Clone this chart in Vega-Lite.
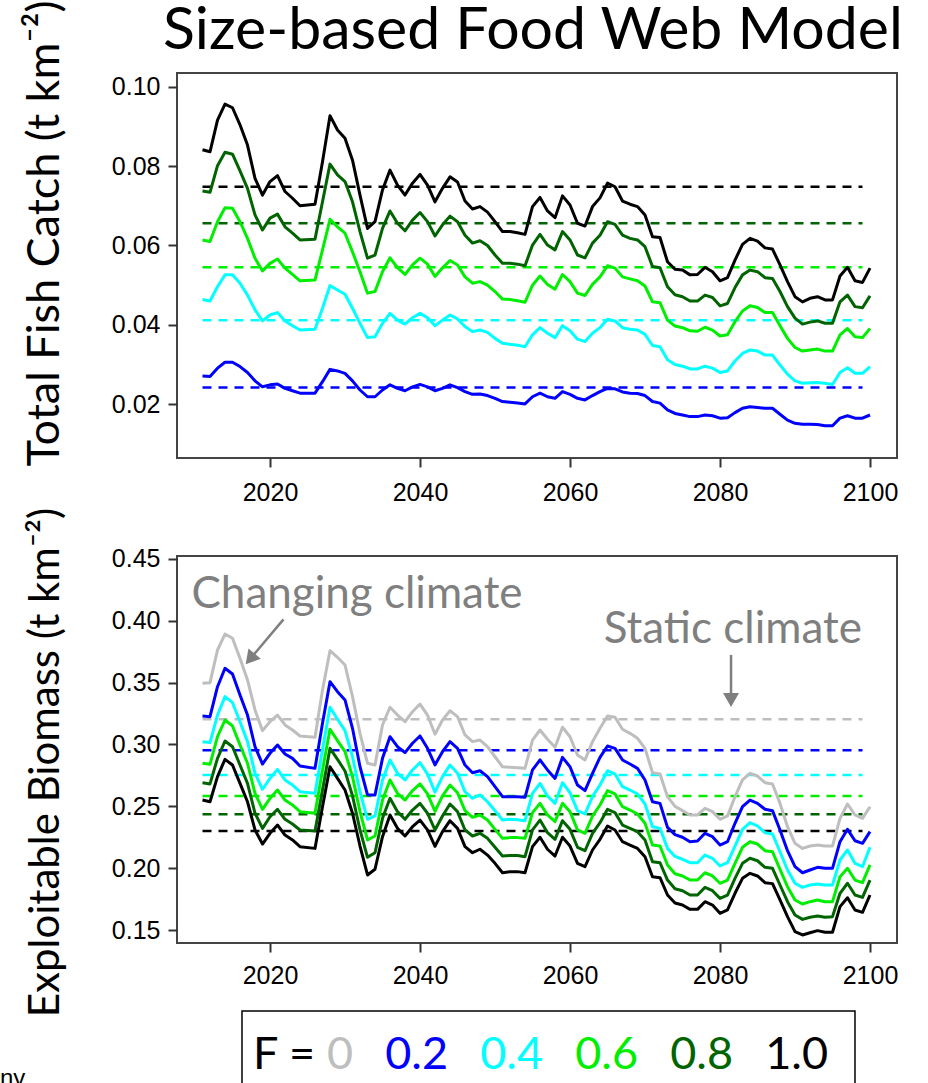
{
"$schema": "https://vega.github.io/schema/vega-lite/v6.json",
"background": "white",
"padding": {"left": 0, "top": -2, "right": 0, "bottom": 0},
"title": {"text": "Size-based Food Web Model", "font": "Lato", "fontSize": 59, "fontWeight": "normal", "color": "black", "anchor": "middle", "frame": "group", "offset": -62, "dx": -4},
"config": {
 "view": {"stroke": "#444444", "strokeWidth": 2},
 "axis": {"labelFont": "Liberation Sans", "labelFontSize": 25, "labelColor": "black", "tickColor": "#333333", "tickWidth": 2, "tickSize": 9, "domain": false, "grid": false, "titleFont": "Lato", "titleFontSize": 45, "titleFontWeight": "normal", "titleColor": "black"},
 "axisY": {"labelPadding": 8}
},
"datasets": {
"catchLevel": [{"F":1,"value":0.0748},{"F":0.8,"value":0.0656},{"F":0.6,"value":0.0545},{"F":0.4,"value":0.0412},{"F":0.2,"value":0.0242}],
"bioLevel": [{"F":0,"value":0.3204},{"F":0.2,"value":0.2953},{"F":0.4,"value":0.2753},{"F":0.6,"value":0.2584},{"F":0.8,"value":0.2435},{"F":1,"value":0.2300}],
"legendItems": [{"F":0,"label":"0"},{"F":0.2,"label":"0.2"},{"F":0.4,"label":"0.4"},{"F":0.6,"label":"0.6"},{"F":0.8,"label":"0.8"},{"F":1,"label":"1.0"}],
"catch": [
{"F":1,"year":2011,"value":0.0841},{"F":1,"year":2012,"value":0.0836},{"F":1,"year":2013,"value":0.0916},{"F":1,"year":2014,"value":0.0956},{"F":1,"year":2015,"value":0.0947},{"F":1,"year":2016,"value":0.0904},{"F":1,"year":2017,"value":0.0853},{"F":1,"year":2018,"value":0.0769},{"F":1,"year":2019,"value":0.0727},{"F":1,"year":2020,"value":0.0761},{"F":1,"year":2021,"value":0.0776},{"F":1,"year":2022,"value":0.0736},{"F":1,"year":2023,"value":0.0719},{"F":1,"year":2024,"value":0.0700},{"F":1,"year":2026,"value":0.0704},{"F":1,"year":2027,"value":0.0811},{"F":1,"year":2028,"value":0.0927},{"F":1,"year":2029,"value":0.0891},{"F":1,"year":2030,"value":0.0870},{"F":1,"year":2031,"value":0.0815},{"F":1,"year":2032,"value":0.0727},{"F":1,"year":2033,"value":0.0643},{"F":1,"year":2034,"value":0.0660},{"F":1,"year":2035,"value":0.0740},{"F":1,"year":2036,"value":0.0790},{"F":1,"year":2037,"value":0.0752},{"F":1,"year":2038,"value":0.0727},{"F":1,"year":2039,"value":0.0757},{"F":1,"year":2040,"value":0.0779},{"F":1,"year":2041,"value":0.0752},{"F":1,"year":2042,"value":0.0710},{"F":1,"year":2043,"value":0.0744},{"F":1,"year":2044,"value":0.0773},{"F":1,"year":2045,"value":0.0760},{"F":1,"year":2046,"value":0.0712},{"F":1,"year":2047,"value":0.0692},{"F":1,"year":2048,"value":0.0698},{"F":1,"year":2049,"value":0.0684},{"F":1,"year":2050,"value":0.0660},{"F":1,"year":2051,"value":0.0635},{"F":1,"year":2052,"value":0.0635},{"F":1,"year":2053,"value":0.0632},{"F":1,"year":2054,"value":0.0628},{"F":1,"year":2055,"value":0.0698},{"F":1,"year":2056,"value":0.0721},{"F":1,"year":2057,"value":0.0687},{"F":1,"year":2058,"value":0.0670},{"F":1,"year":2059,"value":0.0725},{"F":1,"year":2060,"value":0.0702},{"F":1,"year":2061,"value":0.0656},{"F":1,"year":2062,"value":0.0649},{"F":1,"year":2063,"value":0.0698},{"F":1,"year":2064,"value":0.0720},{"F":1,"year":2065,"value":0.0757},{"F":1,"year":2066,"value":0.0748},{"F":1,"year":2067,"value":0.0712},{"F":1,"year":2068,"value":0.0704},{"F":1,"year":2069,"value":0.0698},{"F":1,"year":2070,"value":0.0677},{"F":1,"year":2071,"value":0.0622},{"F":1,"year":2072,"value":0.0620},{"F":1,"year":2073,"value":0.0559},{"F":1,"year":2074,"value":0.0540},{"F":1,"year":2075,"value":0.0538},{"F":1,"year":2076,"value":0.0526},{"F":1,"year":2077,"value":0.0527},{"F":1,"year":2078,"value":0.0545},{"F":1,"year":2079,"value":0.0534},{"F":1,"year":2080,"value":0.0511},{"F":1,"year":2081,"value":0.0519},{"F":1,"year":2082,"value":0.0563},{"F":1,"year":2083,"value":0.0603},{"F":1,"year":2084,"value":0.0618},{"F":1,"year":2085,"value":0.0611},{"F":1,"year":2086,"value":0.0594},{"F":1,"year":2087,"value":0.0591},{"F":1,"year":2088,"value":0.0551},{"F":1,"year":2089,"value":0.0509},{"F":1,"year":2090,"value":0.0471},{"F":1,"year":2091,"value":0.0458},{"F":1,"year":2092,"value":0.0467},{"F":1,"year":2093,"value":0.0471},{"F":1,"year":2094,"value":0.0463},{"F":1,"year":2095,"value":0.0463},{"F":1,"year":2096,"value":0.0523},{"F":1,"year":2097,"value":0.0545},{"F":1,"year":2098,"value":0.0511},{"F":1,"year":2099,"value":0.0507},{"F":1,"year":2100,"value":0.0543},
{"F":0.8,"year":2011,"value":0.0737},{"F":0.8,"year":2012,"value":0.0734},{"F":0.8,"year":2013,"value":0.0801},{"F":0.8,"year":2014,"value":0.0835},{"F":0.8,"year":2015,"value":0.0830},{"F":0.8,"year":2016,"value":0.0788},{"F":0.8,"year":2017,"value":0.0744},{"F":0.8,"year":2018,"value":0.0677},{"F":0.8,"year":2019,"value":0.0639},{"F":0.8,"year":2020,"value":0.0669},{"F":0.8,"year":2021,"value":0.0679},{"F":0.8,"year":2022,"value":0.0647},{"F":0.8,"year":2023,"value":0.0631},{"F":0.8,"year":2024,"value":0.0614},{"F":0.8,"year":2026,"value":0.0616},{"F":0.8,"year":2027,"value":0.0710},{"F":0.8,"year":2028,"value":0.0805},{"F":0.8,"year":2029,"value":0.0778},{"F":0.8,"year":2030,"value":0.0761},{"F":0.8,"year":2031,"value":0.0710},{"F":0.8,"year":2032,"value":0.0635},{"F":0.8,"year":2033,"value":0.0568},{"F":0.8,"year":2034,"value":0.0576},{"F":0.8,"year":2035,"value":0.0643},{"F":0.8,"year":2036,"value":0.0687},{"F":0.8,"year":2037,"value":0.0656},{"F":0.8,"year":2038,"value":0.0637},{"F":0.8,"year":2039,"value":0.0664},{"F":0.8,"year":2040,"value":0.0683},{"F":0.8,"year":2041,"value":0.0660},{"F":0.8,"year":2042,"value":0.0624},{"F":0.8,"year":2043,"value":0.0652},{"F":0.8,"year":2044,"value":0.0674},{"F":0.8,"year":2045,"value":0.0660},{"F":0.8,"year":2046,"value":0.0626},{"F":0.8,"year":2047,"value":0.0606},{"F":0.8,"year":2048,"value":0.0612},{"F":0.8,"year":2049,"value":0.0600},{"F":0.8,"year":2050,"value":0.0576},{"F":0.8,"year":2051,"value":0.0555},{"F":0.8,"year":2052,"value":0.0555},{"F":0.8,"year":2053,"value":0.0553},{"F":0.8,"year":2054,"value":0.0549},{"F":0.8,"year":2055,"value":0.0601},{"F":0.8,"year":2056,"value":0.0628},{"F":0.8,"year":2057,"value":0.0601},{"F":0.8,"year":2058,"value":0.0589},{"F":0.8,"year":2059,"value":0.0635},{"F":0.8,"year":2060,"value":0.0614},{"F":0.8,"year":2061,"value":0.0576},{"F":0.8,"year":2062,"value":0.0569},{"F":0.8,"year":2063,"value":0.0606},{"F":0.8,"year":2064,"value":0.0626},{"F":0.8,"year":2065,"value":0.0660},{"F":0.8,"year":2066,"value":0.0653},{"F":0.8,"year":2067,"value":0.0626},{"F":0.8,"year":2068,"value":0.0618},{"F":0.8,"year":2069,"value":0.0614},{"F":0.8,"year":2070,"value":0.0597},{"F":0.8,"year":2071,"value":0.0547},{"F":0.8,"year":2072,"value":0.0544},{"F":0.8,"year":2073,"value":0.0496},{"F":0.8,"year":2074,"value":0.0476},{"F":0.8,"year":2075,"value":0.0471},{"F":0.8,"year":2076,"value":0.0460},{"F":0.8,"year":2077,"value":0.0460},{"F":0.8,"year":2078,"value":0.0475},{"F":0.8,"year":2079,"value":0.0469},{"F":0.8,"year":2080,"value":0.0448},{"F":0.8,"year":2081,"value":0.0454},{"F":0.8,"year":2082,"value":0.0494},{"F":0.8,"year":2083,"value":0.0526},{"F":0.8,"year":2084,"value":0.0538},{"F":0.8,"year":2085,"value":0.0534},{"F":0.8,"year":2086,"value":0.0519},{"F":0.8,"year":2087,"value":0.0517},{"F":0.8,"year":2088,"value":0.0484},{"F":0.8,"year":2089,"value":0.0446},{"F":0.8,"year":2090,"value":0.0417},{"F":0.8,"year":2091,"value":0.0402},{"F":0.8,"year":2092,"value":0.0407},{"F":0.8,"year":2093,"value":0.0410},{"F":0.8,"year":2094,"value":0.0404},{"F":0.8,"year":2095,"value":0.0404},{"F":0.8,"year":2096,"value":0.0458},{"F":0.8,"year":2097,"value":0.0475},{"F":0.8,"year":2098,"value":0.0446},{"F":0.8,"year":2099,"value":0.0443},{"F":0.8,"year":2100,"value":0.0473},
{"F":0.6,"year":2011,"value":0.0614},{"F":0.6,"year":2012,"value":0.0610},{"F":0.6,"year":2013,"value":0.0660},{"F":0.6,"year":2014,"value":0.0695},{"F":0.6,"year":2015,"value":0.0694},{"F":0.6,"year":2016,"value":0.0660},{"F":0.6,"year":2017,"value":0.0618},{"F":0.6,"year":2018,"value":0.0568},{"F":0.6,"year":2019,"value":0.0536},{"F":0.6,"year":2020,"value":0.0555},{"F":0.6,"year":2021,"value":0.0566},{"F":0.6,"year":2022,"value":0.0543},{"F":0.6,"year":2023,"value":0.0527},{"F":0.6,"year":2024,"value":0.0511},{"F":0.6,"year":2026,"value":0.0513},{"F":0.6,"year":2027,"value":0.0589},{"F":0.6,"year":2028,"value":0.0666},{"F":0.6,"year":2029,"value":0.0647},{"F":0.6,"year":2030,"value":0.0631},{"F":0.6,"year":2031,"value":0.0584},{"F":0.6,"year":2032,"value":0.0534},{"F":0.6,"year":2033,"value":0.0480},{"F":0.6,"year":2034,"value":0.0484},{"F":0.6,"year":2035,"value":0.0534},{"F":0.6,"year":2036,"value":0.0569},{"F":0.6,"year":2037,"value":0.0544},{"F":0.6,"year":2038,"value":0.0527},{"F":0.6,"year":2039,"value":0.0551},{"F":0.6,"year":2040,"value":0.0568},{"F":0.6,"year":2041,"value":0.0553},{"F":0.6,"year":2042,"value":0.0522},{"F":0.6,"year":2043,"value":0.0544},{"F":0.6,"year":2044,"value":0.0562},{"F":0.6,"year":2045,"value":0.0551},{"F":0.6,"year":2046,"value":0.0521},{"F":0.6,"year":2047,"value":0.0505},{"F":0.6,"year":2048,"value":0.0509},{"F":0.6,"year":2049,"value":0.0500},{"F":0.6,"year":2050,"value":0.0484},{"F":0.6,"year":2051,"value":0.0465},{"F":0.6,"year":2052,"value":0.0464},{"F":0.6,"year":2053,"value":0.0461},{"F":0.6,"year":2054,"value":0.0457},{"F":0.6,"year":2055,"value":0.0500},{"F":0.6,"year":2056,"value":0.0523},{"F":0.6,"year":2057,"value":0.0502},{"F":0.6,"year":2058,"value":0.0490},{"F":0.6,"year":2059,"value":0.0527},{"F":0.6,"year":2060,"value":0.0509},{"F":0.6,"year":2061,"value":0.0480},{"F":0.6,"year":2062,"value":0.0474},{"F":0.6,"year":2063,"value":0.0502},{"F":0.6,"year":2064,"value":0.0521},{"F":0.6,"year":2065,"value":0.0549},{"F":0.6,"year":2066,"value":0.0543},{"F":0.6,"year":2067,"value":0.0521},{"F":0.6,"year":2068,"value":0.0516},{"F":0.6,"year":2069,"value":0.0511},{"F":0.6,"year":2070,"value":0.0498},{"F":0.6,"year":2071,"value":0.0458},{"F":0.6,"year":2072,"value":0.0456},{"F":0.6,"year":2073,"value":0.0412},{"F":0.6,"year":2074,"value":0.0397},{"F":0.6,"year":2075,"value":0.0393},{"F":0.6,"year":2076,"value":0.0385},{"F":0.6,"year":2077,"value":0.0384},{"F":0.6,"year":2078,"value":0.0394},{"F":0.6,"year":2079,"value":0.0387},{"F":0.6,"year":2080,"value":0.0372},{"F":0.6,"year":2081,"value":0.0375},{"F":0.6,"year":2082,"value":0.0408},{"F":0.6,"year":2083,"value":0.0435},{"F":0.6,"year":2084,"value":0.0448},{"F":0.6,"year":2085,"value":0.0444},{"F":0.6,"year":2086,"value":0.0431},{"F":0.6,"year":2087,"value":0.0431},{"F":0.6,"year":2088,"value":0.0398},{"F":0.6,"year":2089,"value":0.0366},{"F":0.6,"year":2090,"value":0.0343},{"F":0.6,"year":2091,"value":0.0334},{"F":0.6,"year":2092,"value":0.0337},{"F":0.6,"year":2093,"value":0.0339},{"F":0.6,"year":2094,"value":0.0334},{"F":0.6,"year":2095,"value":0.0334},{"F":0.6,"year":2096,"value":0.0375},{"F":0.6,"year":2097,"value":0.0391},{"F":0.6,"year":2098,"value":0.0370},{"F":0.6,"year":2099,"value":0.0368},{"F":0.6,"year":2100,"value":0.0391},
{"F":0.4,"year":2011,"value":0.0464},{"F":0.4,"year":2012,"value":0.0460},{"F":0.4,"year":2013,"value":0.0496},{"F":0.4,"year":2014,"value":0.0526},{"F":0.4,"year":2015,"value":0.0526},{"F":0.4,"year":2016,"value":0.0505},{"F":0.4,"year":2017,"value":0.0475},{"F":0.4,"year":2018,"value":0.0438},{"F":0.4,"year":2019,"value":0.0410},{"F":0.4,"year":2020,"value":0.0425},{"F":0.4,"year":2021,"value":0.0431},{"F":0.4,"year":2022,"value":0.0410},{"F":0.4,"year":2023,"value":0.0398},{"F":0.4,"year":2024,"value":0.0387},{"F":0.4,"year":2026,"value":0.0389},{"F":0.4,"year":2027,"value":0.0442},{"F":0.4,"year":2028,"value":0.0499},{"F":0.4,"year":2029,"value":0.0488},{"F":0.4,"year":2030,"value":0.0477},{"F":0.4,"year":2031,"value":0.0442},{"F":0.4,"year":2032,"value":0.0404},{"F":0.4,"year":2033,"value":0.0368},{"F":0.4,"year":2034,"value":0.0370},{"F":0.4,"year":2035,"value":0.0404},{"F":0.4,"year":2036,"value":0.0429},{"F":0.4,"year":2037,"value":0.0412},{"F":0.4,"year":2038,"value":0.0402},{"F":0.4,"year":2039,"value":0.0418},{"F":0.4,"year":2040,"value":0.0429},{"F":0.4,"year":2041,"value":0.0418},{"F":0.4,"year":2042,"value":0.0398},{"F":0.4,"year":2043,"value":0.0412},{"F":0.4,"year":2044,"value":0.0425},{"F":0.4,"year":2045,"value":0.0415},{"F":0.4,"year":2046,"value":0.0396},{"F":0.4,"year":2047,"value":0.0383},{"F":0.4,"year":2048,"value":0.0387},{"F":0.4,"year":2049,"value":0.0381},{"F":0.4,"year":2050,"value":0.0366},{"F":0.4,"year":2051,"value":0.0354},{"F":0.4,"year":2052,"value":0.0351},{"F":0.4,"year":2053,"value":0.0349},{"F":0.4,"year":2054,"value":0.0345},{"F":0.4,"year":2055,"value":0.0375},{"F":0.4,"year":2056,"value":0.0393},{"F":0.4,"year":2057,"value":0.0379},{"F":0.4,"year":2058,"value":0.0368},{"F":0.4,"year":2059,"value":0.0398},{"F":0.4,"year":2060,"value":0.0385},{"F":0.4,"year":2061,"value":0.0364},{"F":0.4,"year":2062,"value":0.0358},{"F":0.4,"year":2063,"value":0.0379},{"F":0.4,"year":2064,"value":0.0393},{"F":0.4,"year":2065,"value":0.0414},{"F":0.4,"year":2066,"value":0.0410},{"F":0.4,"year":2067,"value":0.0393},{"F":0.4,"year":2068,"value":0.0389},{"F":0.4,"year":2069,"value":0.0387},{"F":0.4,"year":2070,"value":0.0376},{"F":0.4,"year":2071,"value":0.0348},{"F":0.4,"year":2072,"value":0.0345},{"F":0.4,"year":2073,"value":0.0312},{"F":0.4,"year":2074,"value":0.0300},{"F":0.4,"year":2075,"value":0.0296},{"F":0.4,"year":2076,"value":0.0289},{"F":0.4,"year":2077,"value":0.0289},{"F":0.4,"year":2078,"value":0.0296},{"F":0.4,"year":2079,"value":0.0291},{"F":0.4,"year":2080,"value":0.0280},{"F":0.4,"year":2081,"value":0.0284},{"F":0.4,"year":2082,"value":0.0309},{"F":0.4,"year":2083,"value":0.0328},{"F":0.4,"year":2084,"value":0.0337},{"F":0.4,"year":2085,"value":0.0334},{"F":0.4,"year":2086,"value":0.0324},{"F":0.4,"year":2087,"value":0.0324},{"F":0.4,"year":2088,"value":0.0299},{"F":0.4,"year":2089,"value":0.0276},{"F":0.4,"year":2090,"value":0.0259},{"F":0.4,"year":2091,"value":0.0253},{"F":0.4,"year":2092,"value":0.0254},{"F":0.4,"year":2093,"value":0.0255},{"F":0.4,"year":2094,"value":0.0253},{"F":0.4,"year":2095,"value":0.0250},{"F":0.4,"year":2096,"value":0.0280},{"F":0.4,"year":2097,"value":0.0292},{"F":0.4,"year":2098,"value":0.0278},{"F":0.4,"year":2099,"value":0.0278},{"F":0.4,"year":2100,"value":0.0295},
{"F":0.2,"year":2011,"value":0.0271},{"F":0.2,"year":2012,"value":0.0270},{"F":0.2,"year":2013,"value":0.0291},{"F":0.2,"year":2014,"value":0.0306},{"F":0.2,"year":2015,"value":0.0306},{"F":0.2,"year":2016,"value":0.0295},{"F":0.2,"year":2017,"value":0.0280},{"F":0.2,"year":2018,"value":0.0259},{"F":0.2,"year":2019,"value":0.0244},{"F":0.2,"year":2020,"value":0.0249},{"F":0.2,"year":2021,"value":0.0251},{"F":0.2,"year":2022,"value":0.0240},{"F":0.2,"year":2023,"value":0.0234},{"F":0.2,"year":2024,"value":0.0228},{"F":0.2,"year":2026,"value":0.0228},{"F":0.2,"year":2027,"value":0.0257},{"F":0.2,"year":2028,"value":0.0288},{"F":0.2,"year":2029,"value":0.0284},{"F":0.2,"year":2030,"value":0.0278},{"F":0.2,"year":2031,"value":0.0259},{"F":0.2,"year":2032,"value":0.0236},{"F":0.2,"year":2033,"value":0.0219},{"F":0.2,"year":2034,"value":0.0219},{"F":0.2,"year":2035,"value":0.0236},{"F":0.2,"year":2036,"value":0.0249},{"F":0.2,"year":2037,"value":0.0240},{"F":0.2,"year":2038,"value":0.0234},{"F":0.2,"year":2039,"value":0.0244},{"F":0.2,"year":2040,"value":0.0250},{"F":0.2,"year":2041,"value":0.0244},{"F":0.2,"year":2042,"value":0.0234},{"F":0.2,"year":2043,"value":0.0240},{"F":0.2,"year":2044,"value":0.0249},{"F":0.2,"year":2045,"value":0.0242},{"F":0.2,"year":2046,"value":0.0232},{"F":0.2,"year":2047,"value":0.0225},{"F":0.2,"year":2048,"value":0.0226},{"F":0.2,"year":2049,"value":0.0222},{"F":0.2,"year":2050,"value":0.0215},{"F":0.2,"year":2051,"value":0.0207},{"F":0.2,"year":2052,"value":0.0205},{"F":0.2,"year":2053,"value":0.0203},{"F":0.2,"year":2054,"value":0.0201},{"F":0.2,"year":2055,"value":0.0219},{"F":0.2,"year":2056,"value":0.0228},{"F":0.2,"year":2057,"value":0.0219},{"F":0.2,"year":2058,"value":0.0215},{"F":0.2,"year":2059,"value":0.0232},{"F":0.2,"year":2060,"value":0.0225},{"F":0.2,"year":2061,"value":0.0215},{"F":0.2,"year":2062,"value":0.0211},{"F":0.2,"year":2063,"value":0.0222},{"F":0.2,"year":2064,"value":0.0232},{"F":0.2,"year":2065,"value":0.0240},{"F":0.2,"year":2066,"value":0.0239},{"F":0.2,"year":2067,"value":0.0231},{"F":0.2,"year":2068,"value":0.0228},{"F":0.2,"year":2069,"value":0.0227},{"F":0.2,"year":2070,"value":0.0222},{"F":0.2,"year":2071,"value":0.0207},{"F":0.2,"year":2072,"value":0.0203},{"F":0.2,"year":2073,"value":0.0186},{"F":0.2,"year":2074,"value":0.0177},{"F":0.2,"year":2075,"value":0.0173},{"F":0.2,"year":2076,"value":0.0169},{"F":0.2,"year":2077,"value":0.0169},{"F":0.2,"year":2078,"value":0.0173},{"F":0.2,"year":2079,"value":0.0171},{"F":0.2,"year":2080,"value":0.0165},{"F":0.2,"year":2081,"value":0.0166},{"F":0.2,"year":2082,"value":0.0179},{"F":0.2,"year":2083,"value":0.0190},{"F":0.2,"year":2084,"value":0.0194},{"F":0.2,"year":2085,"value":0.0192},{"F":0.2,"year":2086,"value":0.0190},{"F":0.2,"year":2087,"value":0.0190},{"F":0.2,"year":2088,"value":0.0175},{"F":0.2,"year":2089,"value":0.0160},{"F":0.2,"year":2090,"value":0.0152},{"F":0.2,"year":2091,"value":0.0150},{"F":0.2,"year":2092,"value":0.0150},{"F":0.2,"year":2093,"value":0.0149},{"F":0.2,"year":2094,"value":0.0146},{"F":0.2,"year":2095,"value":0.0146},{"F":0.2,"year":2096,"value":0.0165},{"F":0.2,"year":2097,"value":0.0171},{"F":0.2,"year":2098,"value":0.0165},{"F":0.2,"year":2099,"value":0.0165},{"F":0.2,"year":2100,"value":0.0173}
],
"biomass": [
{"F":0,"year":2011,"value":0.3495},{"F":0,"year":2012,"value":0.3500},{"F":0,"year":2013,"value":0.3764},{"F":0,"year":2014,"value":0.3893},{"F":0,"year":2015,"value":0.3859},{"F":0,"year":2016,"value":0.3697},{"F":0,"year":2017,"value":0.3522},{"F":0,"year":2018,"value":0.3279},{"F":0,"year":2019,"value":0.3112},{"F":0,"year":2020,"value":0.3184},{"F":0,"year":2021,"value":0.3238},{"F":0,"year":2022,"value":0.3158},{"F":0,"year":2023,"value":0.3117},{"F":0,"year":2024,"value":0.3069},{"F":0,"year":2026,"value":0.3058},{"F":0,"year":2027,"value":0.3441},{"F":0,"year":2028,"value":0.3758},{"F":0,"year":2029,"value":0.3705},{"F":0,"year":2030,"value":0.3643},{"F":0,"year":2031,"value":0.3387},{"F":0,"year":2032,"value":0.3090},{"F":0,"year":2033,"value":0.2848},{"F":0,"year":2034,"value":0.2834},{"F":0,"year":2035,"value":0.3158},{"F":0,"year":2036,"value":0.3301},{"F":0,"year":2037,"value":0.3238},{"F":0,"year":2038,"value":0.3184},{"F":0,"year":2039,"value":0.3265},{"F":0,"year":2040,"value":0.3327},{"F":0,"year":2041,"value":0.3238},{"F":0,"year":2042,"value":0.3083},{"F":0,"year":2043,"value":0.3198},{"F":0,"year":2044,"value":0.3273},{"F":0,"year":2045,"value":0.3225},{"F":0,"year":2046,"value":0.3077},{"F":0,"year":2047,"value":0.3023},{"F":0,"year":2048,"value":0.3036},{"F":0,"year":2049,"value":0.2982},{"F":0,"year":2050,"value":0.2901},{"F":0,"year":2051,"value":0.2820},{"F":0,"year":2052,"value":0.2815},{"F":0,"year":2053,"value":0.2812},{"F":0,"year":2054,"value":0.2807},{"F":0,"year":2055,"value":0.3036},{"F":0,"year":2056,"value":0.3117},{"F":0,"year":2057,"value":0.3042},{"F":0,"year":2058,"value":0.2977},{"F":0,"year":2059,"value":0.3139},{"F":0,"year":2060,"value":0.3063},{"F":0,"year":2061,"value":0.2915},{"F":0,"year":2062,"value":0.2875},{"F":0,"year":2063,"value":0.3023},{"F":0,"year":2064,"value":0.3131},{"F":0,"year":2065,"value":0.3230},{"F":0,"year":2066,"value":0.3220},{"F":0,"year":2067,"value":0.3123},{"F":0,"year":2068,"value":0.3090},{"F":0,"year":2069,"value":0.3050},{"F":0,"year":2070,"value":0.2969},{"F":0,"year":2071,"value":0.2772},{"F":0,"year":2072,"value":0.2761},{"F":0,"year":2073,"value":0.2578},{"F":0,"year":2074,"value":0.2500},{"F":0,"year":2075,"value":0.2465},{"F":0,"year":2076,"value":0.2430},{"F":0,"year":2077,"value":0.2430},{"F":0,"year":2078,"value":0.2484},{"F":0,"year":2079,"value":0.2457},{"F":0,"year":2080,"value":0.2395},{"F":0,"year":2081,"value":0.2422},{"F":0,"year":2082,"value":0.2578},{"F":0,"year":2083,"value":0.2713},{"F":0,"year":2084,"value":0.2767},{"F":0,"year":2085,"value":0.2745},{"F":0,"year":2086,"value":0.2691},{"F":0,"year":2087,"value":0.2681},{"F":0,"year":2088,"value":0.2524},{"F":0,"year":2089,"value":0.2335},{"F":0,"year":2090,"value":0.2201},{"F":0,"year":2091,"value":0.2160},{"F":0,"year":2092,"value":0.2179},{"F":0,"year":2093,"value":0.2187},{"F":0,"year":2094,"value":0.2179},{"F":0,"year":2095,"value":0.2179},{"F":0,"year":2096,"value":0.2403},{"F":0,"year":2097,"value":0.2519},{"F":0,"year":2098,"value":0.2430},{"F":0,"year":2099,"value":0.2403},{"F":0,"year":2100,"value":0.2497},
{"F":0.2,"year":2011,"value":0.3230},{"F":0.2,"year":2012,"value":0.3225},{"F":0.2,"year":2013,"value":0.3467},{"F":0.2,"year":2014,"value":0.3616},{"F":0.2,"year":2015,"value":0.3570},{"F":0.2,"year":2016,"value":0.3400},{"F":0.2,"year":2017,"value":0.3238},{"F":0.2,"year":2018,"value":0.2982},{"F":0.2,"year":2019,"value":0.2842},{"F":0.2,"year":2020,"value":0.2929},{"F":0.2,"year":2021,"value":0.2996},{"F":0.2,"year":2022,"value":0.2923},{"F":0.2,"year":2023,"value":0.2888},{"F":0.2,"year":2024,"value":0.2826},{"F":0.2,"year":2026,"value":0.2807},{"F":0.2,"year":2027,"value":0.3171},{"F":0.2,"year":2028,"value":0.3508},{"F":0.2,"year":2029,"value":0.3427},{"F":0.2,"year":2030,"value":0.3360},{"F":0.2,"year":2031,"value":0.3131},{"F":0.2,"year":2032,"value":0.2820},{"F":0.2,"year":2033,"value":0.2592},{"F":0.2,"year":2034,"value":0.2592},{"F":0.2,"year":2035,"value":0.2888},{"F":0.2,"year":2036,"value":0.3063},{"F":0.2,"year":2037,"value":0.2982},{"F":0.2,"year":2038,"value":0.2934},{"F":0.2,"year":2039,"value":0.3010},{"F":0.2,"year":2040,"value":0.3069},{"F":0.2,"year":2041,"value":0.2969},{"F":0.2,"year":2042,"value":0.2835},{"F":0.2,"year":2043,"value":0.2942},{"F":0.2,"year":2044,"value":0.3023},{"F":0.2,"year":2045,"value":0.2969},{"F":0.2,"year":2046,"value":0.2834},{"F":0.2,"year":2047,"value":0.2772},{"F":0.2,"year":2048,"value":0.2788},{"F":0.2,"year":2049,"value":0.2740},{"F":0.2,"year":2050,"value":0.2659},{"F":0.2,"year":2051,"value":0.2578},{"F":0.2,"year":2052,"value":0.2578},{"F":0.2,"year":2053,"value":0.2578},{"F":0.2,"year":2054,"value":0.2573},{"F":0.2,"year":2055,"value":0.2794},{"F":0.2,"year":2056,"value":0.2875},{"F":0.2,"year":2057,"value":0.2794},{"F":0.2,"year":2058,"value":0.2726},{"F":0.2,"year":2059,"value":0.2896},{"F":0.2,"year":2060,"value":0.2820},{"F":0.2,"year":2061,"value":0.2672},{"F":0.2,"year":2062,"value":0.2627},{"F":0.2,"year":2063,"value":0.2767},{"F":0.2,"year":2064,"value":0.2896},{"F":0.2,"year":2065,"value":0.2988},{"F":0.2,"year":2066,"value":0.2969},{"F":0.2,"year":2067,"value":0.2875},{"F":0.2,"year":2068,"value":0.2842},{"F":0.2,"year":2069,"value":0.2807},{"F":0.2,"year":2070,"value":0.2713},{"F":0.2,"year":2071,"value":0.2537},{"F":0.2,"year":2072,"value":0.2524},{"F":0.2,"year":2073,"value":0.2330},{"F":0.2,"year":2074,"value":0.2271},{"F":0.2,"year":2075,"value":0.2250},{"F":0.2,"year":2076,"value":0.2214},{"F":0.2,"year":2077,"value":0.2220},{"F":0.2,"year":2078,"value":0.2282},{"F":0.2,"year":2079,"value":0.2255},{"F":0.2,"year":2080,"value":0.2187},{"F":0.2,"year":2081,"value":0.2214},{"F":0.2,"year":2082,"value":0.2363},{"F":0.2,"year":2083,"value":0.2497},{"F":0.2,"year":2084,"value":0.2551},{"F":0.2,"year":2085,"value":0.2524},{"F":0.2,"year":2086,"value":0.2476},{"F":0.2,"year":2087,"value":0.2465},{"F":0.2,"year":2088,"value":0.2309},{"F":0.2,"year":2089,"value":0.2141},{"F":0.2,"year":2090,"value":0.2012},{"F":0.2,"year":2091,"value":0.1963},{"F":0.2,"year":2092,"value":0.1985},{"F":0.2,"year":2093,"value":0.2007},{"F":0.2,"year":2094,"value":0.1999},{"F":0.2,"year":2095,"value":0.1999},{"F":0.2,"year":2096,"value":0.2214},{"F":0.2,"year":2097,"value":0.2314},{"F":0.2,"year":2098,"value":0.2222},{"F":0.2,"year":2099,"value":0.2201},{"F":0.2,"year":2100,"value":0.2295},
{"F":0.4,"year":2011,"value":0.3023},{"F":0.4,"year":2012,"value":0.3015},{"F":0.4,"year":2013,"value":0.3238},{"F":0.4,"year":2014,"value":0.3387},{"F":0.4,"year":2015,"value":0.3338},{"F":0.4,"year":2016,"value":0.3184},{"F":0.4,"year":2017,"value":0.3023},{"F":0.4,"year":2018,"value":0.2767},{"F":0.4,"year":2019,"value":0.2638},{"F":0.4,"year":2020,"value":0.2726},{"F":0.4,"year":2021,"value":0.2799},{"F":0.4,"year":2022,"value":0.2713},{"F":0.4,"year":2023,"value":0.2672},{"F":0.4,"year":2024,"value":0.2618},{"F":0.4,"year":2026,"value":0.2605},{"F":0.4,"year":2027,"value":0.2961},{"F":0.4,"year":2028,"value":0.3301},{"F":0.4,"year":2029,"value":0.3204},{"F":0.4,"year":2030,"value":0.3112},{"F":0.4,"year":2031,"value":0.2901},{"F":0.4,"year":2032,"value":0.2618},{"F":0.4,"year":2033,"value":0.2395},{"F":0.4,"year":2034,"value":0.2422},{"F":0.4,"year":2035,"value":0.2713},{"F":0.4,"year":2036,"value":0.2875},{"F":0.4,"year":2037,"value":0.2767},{"F":0.4,"year":2038,"value":0.2713},{"F":0.4,"year":2039,"value":0.2794},{"F":0.4,"year":2040,"value":0.2853},{"F":0.4,"year":2041,"value":0.2761},{"F":0.4,"year":2042,"value":0.2615},{"F":0.4,"year":2043,"value":0.2740},{"F":0.4,"year":2044,"value":0.2834},{"F":0.4,"year":2045,"value":0.2767},{"F":0.4,"year":2046,"value":0.2618},{"F":0.4,"year":2047,"value":0.2565},{"F":0.4,"year":2048,"value":0.2592},{"F":0.4,"year":2049,"value":0.2537},{"F":0.4,"year":2050,"value":0.2465},{"F":0.4,"year":2051,"value":0.2389},{"F":0.4,"year":2052,"value":0.2395},{"F":0.4,"year":2053,"value":0.2392},{"F":0.4,"year":2054,"value":0.2384},{"F":0.4,"year":2055,"value":0.2605},{"F":0.4,"year":2056,"value":0.2686},{"F":0.4,"year":2057,"value":0.2584},{"F":0.4,"year":2058,"value":0.2524},{"F":0.4,"year":2059,"value":0.2691},{"F":0.4,"year":2060,"value":0.2610},{"F":0.4,"year":2061,"value":0.2465},{"F":0.4,"year":2062,"value":0.2438},{"F":0.4,"year":2063,"value":0.2578},{"F":0.4,"year":2064,"value":0.2672},{"F":0.4,"year":2065,"value":0.2788},{"F":0.4,"year":2066,"value":0.2761},{"F":0.4,"year":2067,"value":0.2659},{"F":0.4,"year":2068,"value":0.2632},{"F":0.4,"year":2069,"value":0.2600},{"F":0.4,"year":2070,"value":0.2519},{"F":0.4,"year":2071,"value":0.2335},{"F":0.4,"year":2072,"value":0.2322},{"F":0.4,"year":2073,"value":0.2160},{"F":0.4,"year":2074,"value":0.2095},{"F":0.4,"year":2075,"value":0.2072},{"F":0.4,"year":2076,"value":0.2044},{"F":0.4,"year":2077,"value":0.2044},{"F":0.4,"year":2078,"value":0.2106},{"F":0.4,"year":2079,"value":0.2080},{"F":0.4,"year":2080,"value":0.2018},{"F":0.4,"year":2081,"value":0.2044},{"F":0.4,"year":2082,"value":0.2179},{"F":0.4,"year":2083,"value":0.2314},{"F":0.4,"year":2084,"value":0.2368},{"F":0.4,"year":2085,"value":0.2341},{"F":0.4,"year":2086,"value":0.2287},{"F":0.4,"year":2087,"value":0.2276},{"F":0.4,"year":2088,"value":0.2133},{"F":0.4,"year":2089,"value":0.1985},{"F":0.4,"year":2090,"value":0.1878},{"F":0.4,"year":2091,"value":0.1845},{"F":0.4,"year":2092,"value":0.1864},{"F":0.4,"year":2093,"value":0.1872},{"F":0.4,"year":2094,"value":0.1864},{"F":0.4,"year":2095,"value":0.1864},{"F":0.4,"year":2096,"value":0.2066},{"F":0.4,"year":2097,"value":0.2147},{"F":0.4,"year":2098,"value":0.2039},{"F":0.4,"year":2099,"value":0.2012},{"F":0.4,"year":2100,"value":0.2169},
{"F":0.6,"year":2011,"value":0.2848},{"F":0.6,"year":2012,"value":0.2840},{"F":0.6,"year":2013,"value":0.3063},{"F":0.6,"year":2014,"value":0.3198},{"F":0.6,"year":2015,"value":0.3150},{"F":0.6,"year":2016,"value":0.2996},{"F":0.6,"year":2017,"value":0.2848},{"F":0.6,"year":2018,"value":0.2605},{"F":0.6,"year":2019,"value":0.2476},{"F":0.6,"year":2020,"value":0.2565},{"F":0.6,"year":2021,"value":0.2632},{"F":0.6,"year":2022,"value":0.2551},{"F":0.6,"year":2023,"value":0.2511},{"F":0.6,"year":2024,"value":0.2457},{"F":0.6,"year":2026,"value":0.2444},{"F":0.6,"year":2027,"value":0.2794},{"F":0.6,"year":2028,"value":0.3123},{"F":0.6,"year":2029,"value":0.3031},{"F":0.6,"year":2030,"value":0.2942},{"F":0.6,"year":2031,"value":0.2740},{"F":0.6,"year":2032,"value":0.2457},{"F":0.6,"year":2033,"value":0.2228},{"F":0.6,"year":2034,"value":0.2260},{"F":0.6,"year":2035,"value":0.2551},{"F":0.6,"year":2036,"value":0.2713},{"F":0.6,"year":2037,"value":0.2605},{"F":0.6,"year":2038,"value":0.2551},{"F":0.6,"year":2039,"value":0.2627},{"F":0.6,"year":2040,"value":0.2681},{"F":0.6,"year":2041,"value":0.2600},{"F":0.6,"year":2042,"value":0.2460},{"F":0.6,"year":2043,"value":0.2584},{"F":0.6,"year":2044,"value":0.2672},{"F":0.6,"year":2045,"value":0.2610},{"F":0.6,"year":2046,"value":0.2465},{"F":0.6,"year":2047,"value":0.2411},{"F":0.6,"year":2048,"value":0.2430},{"F":0.6,"year":2049,"value":0.2389},{"F":0.6,"year":2050,"value":0.2314},{"F":0.6,"year":2051,"value":0.2241},{"F":0.6,"year":2052,"value":0.2247},{"F":0.6,"year":2053,"value":0.2247},{"F":0.6,"year":2054,"value":0.2241},{"F":0.6,"year":2055,"value":0.2449},{"F":0.6,"year":2056,"value":0.2524},{"F":0.6,"year":2057,"value":0.2430},{"F":0.6,"year":2058,"value":0.2376},{"F":0.6,"year":2059,"value":0.2524},{"F":0.6,"year":2060,"value":0.2457},{"F":0.6,"year":2061,"value":0.2309},{"F":0.6,"year":2062,"value":0.2282},{"F":0.6,"year":2063,"value":0.2422},{"F":0.6,"year":2064,"value":0.2511},{"F":0.6,"year":2065,"value":0.2627},{"F":0.6,"year":2066,"value":0.2600},{"F":0.6,"year":2067,"value":0.2497},{"F":0.6,"year":2068,"value":0.2470},{"F":0.6,"year":2069,"value":0.2438},{"F":0.6,"year":2070,"value":0.2363},{"F":0.6,"year":2071,"value":0.2187},{"F":0.6,"year":2072,"value":0.2179},{"F":0.6,"year":2073,"value":0.2026},{"F":0.6,"year":2074,"value":0.1955},{"F":0.6,"year":2075,"value":0.1937},{"F":0.6,"year":2076,"value":0.1904},{"F":0.6,"year":2077,"value":0.1904},{"F":0.6,"year":2078,"value":0.1963},{"F":0.6,"year":2079,"value":0.1937},{"F":0.6,"year":2080,"value":0.1878},{"F":0.6,"year":2081,"value":0.1904},{"F":0.6,"year":2082,"value":0.2039},{"F":0.6,"year":2083,"value":0.2169},{"F":0.6,"year":2084,"value":0.2214},{"F":0.6,"year":2085,"value":0.2195},{"F":0.6,"year":2086,"value":0.2141},{"F":0.6,"year":2087,"value":0.2133},{"F":0.6,"year":2088,"value":0.1991},{"F":0.6,"year":2089,"value":0.1850},{"F":0.6,"year":2090,"value":0.1743},{"F":0.6,"year":2091,"value":0.1710},{"F":0.6,"year":2092,"value":0.1729},{"F":0.6,"year":2093,"value":0.1743},{"F":0.6,"year":2094,"value":0.1729},{"F":0.6,"year":2095,"value":0.1729},{"F":0.6,"year":2096,"value":0.1931},{"F":0.6,"year":2097,"value":0.1999},{"F":0.6,"year":2098,"value":0.1904},{"F":0.6,"year":2099,"value":0.1883},{"F":0.6,"year":2100,"value":0.2026},
{"F":0.8,"year":2011,"value":0.2691},{"F":0.8,"year":2012,"value":0.2681},{"F":0.8,"year":2013,"value":0.2888},{"F":0.8,"year":2014,"value":0.3028},{"F":0.8,"year":2015,"value":0.2982},{"F":0.8,"year":2016,"value":0.2834},{"F":0.8,"year":2017,"value":0.2686},{"F":0.8,"year":2018,"value":0.2444},{"F":0.8,"year":2019,"value":0.2322},{"F":0.8,"year":2020,"value":0.2416},{"F":0.8,"year":2021,"value":0.2476},{"F":0.8,"year":2022,"value":0.2395},{"F":0.8,"year":2023,"value":0.2357},{"F":0.8,"year":2024,"value":0.2309},{"F":0.8,"year":2026,"value":0.2300},{"F":0.8,"year":2027,"value":0.2632},{"F":0.8,"year":2028,"value":0.2969},{"F":0.8,"year":2029,"value":0.2880},{"F":0.8,"year":2030,"value":0.2786},{"F":0.8,"year":2031,"value":0.2584},{"F":0.8,"year":2032,"value":0.2309},{"F":0.8,"year":2033,"value":0.2088},{"F":0.8,"year":2034,"value":0.2125},{"F":0.8,"year":2035,"value":0.2403},{"F":0.8,"year":2036,"value":0.2565},{"F":0.8,"year":2037,"value":0.2457},{"F":0.8,"year":2038,"value":0.2395},{"F":0.8,"year":2039,"value":0.2470},{"F":0.8,"year":2040,"value":0.2524},{"F":0.8,"year":2041,"value":0.2444},{"F":0.8,"year":2042,"value":0.2309},{"F":0.8,"year":2043,"value":0.2422},{"F":0.8,"year":2044,"value":0.2519},{"F":0.8,"year":2045,"value":0.2457},{"F":0.8,"year":2046,"value":0.2309},{"F":0.8,"year":2047,"value":0.2260},{"F":0.8,"year":2048,"value":0.2282},{"F":0.8,"year":2049,"value":0.2241},{"F":0.8,"year":2050,"value":0.2169},{"F":0.8,"year":2051,"value":0.2098},{"F":0.8,"year":2052,"value":0.2103},{"F":0.8,"year":2053,"value":0.2103},{"F":0.8,"year":2054,"value":0.2093},{"F":0.8,"year":2055,"value":0.2309},{"F":0.8,"year":2056,"value":0.2389},{"F":0.8,"year":2057,"value":0.2287},{"F":0.8,"year":2058,"value":0.2233},{"F":0.8,"year":2059,"value":0.2384},{"F":0.8,"year":2060,"value":0.2314},{"F":0.8,"year":2061,"value":0.2169},{"F":0.8,"year":2062,"value":0.2141},{"F":0.8,"year":2063,"value":0.2282},{"F":0.8,"year":2064,"value":0.2368},{"F":0.8,"year":2065,"value":0.2476},{"F":0.8,"year":2066,"value":0.2449},{"F":0.8,"year":2067,"value":0.2349},{"F":0.8,"year":2068,"value":0.2322},{"F":0.8,"year":2069,"value":0.2295},{"F":0.8,"year":2070,"value":0.2228},{"F":0.8,"year":2071,"value":0.2052},{"F":0.8,"year":2072,"value":0.2044},{"F":0.8,"year":2073,"value":0.1904},{"F":0.8,"year":2074,"value":0.1833},{"F":0.8,"year":2075,"value":0.1818},{"F":0.8,"year":2076,"value":0.1783},{"F":0.8,"year":2077,"value":0.1783},{"F":0.8,"year":2078,"value":0.1845},{"F":0.8,"year":2079,"value":0.1818},{"F":0.8,"year":2080,"value":0.1756},{"F":0.8,"year":2081,"value":0.1783},{"F":0.8,"year":2082,"value":0.1918},{"F":0.8,"year":2083,"value":0.2039},{"F":0.8,"year":2084,"value":0.2080},{"F":0.8,"year":2085,"value":0.2060},{"F":0.8,"year":2086,"value":0.2007},{"F":0.8,"year":2087,"value":0.1999},{"F":0.8,"year":2088,"value":0.1864},{"F":0.8,"year":2089,"value":0.1729},{"F":0.8,"year":2090,"value":0.1621},{"F":0.8,"year":2091,"value":0.1586},{"F":0.8,"year":2092,"value":0.1603},{"F":0.8,"year":2093,"value":0.1613},{"F":0.8,"year":2094,"value":0.1603},{"F":0.8,"year":2095,"value":0.1608},{"F":0.8,"year":2096,"value":0.1797},{"F":0.8,"year":2097,"value":0.1878},{"F":0.8,"year":2098,"value":0.1783},{"F":0.8,"year":2099,"value":0.1764},{"F":0.8,"year":2100,"value":0.1904},
{"F":1,"year":2011,"value":0.2551},{"F":1,"year":2012,"value":0.2537},{"F":1,"year":2013,"value":0.2740},{"F":1,"year":2014,"value":0.2880},{"F":1,"year":2015,"value":0.2834},{"F":1,"year":2016,"value":0.2686},{"F":1,"year":2017,"value":0.2537},{"F":1,"year":2018,"value":0.2309},{"F":1,"year":2019,"value":0.2195},{"F":1,"year":2020,"value":0.2282},{"F":1,"year":2021,"value":0.2349},{"F":1,"year":2022,"value":0.2268},{"F":1,"year":2023,"value":0.2228},{"F":1,"year":2024,"value":0.2174},{"F":1,"year":2026,"value":0.2160},{"F":1,"year":2027,"value":0.2497},{"F":1,"year":2028,"value":0.2820},{"F":1,"year":2029,"value":0.2726},{"F":1,"year":2030,"value":0.2632},{"F":1,"year":2031,"value":0.2444},{"F":1,"year":2032,"value":0.2179},{"F":1,"year":2033,"value":0.1945},{"F":1,"year":2034,"value":0.1991},{"F":1,"year":2035,"value":0.2255},{"F":1,"year":2036,"value":0.2430},{"F":1,"year":2037,"value":0.2322},{"F":1,"year":2038,"value":0.2260},{"F":1,"year":2039,"value":0.2335},{"F":1,"year":2040,"value":0.2389},{"F":1,"year":2041,"value":0.2309},{"F":1,"year":2042,"value":0.2177},{"F":1,"year":2043,"value":0.2295},{"F":1,"year":2044,"value":0.2384},{"F":1,"year":2045,"value":0.2322},{"F":1,"year":2046,"value":0.2174},{"F":1,"year":2047,"value":0.2125},{"F":1,"year":2048,"value":0.2153},{"F":1,"year":2049,"value":0.2106},{"F":1,"year":2050,"value":0.2039},{"F":1,"year":2051,"value":0.1963},{"F":1,"year":2052,"value":0.1972},{"F":1,"year":2053,"value":0.1972},{"F":1,"year":2054,"value":0.1963},{"F":1,"year":2055,"value":0.2174},{"F":1,"year":2056,"value":0.2250},{"F":1,"year":2057,"value":0.2153},{"F":1,"year":2058,"value":0.2098},{"F":1,"year":2059,"value":0.2250},{"F":1,"year":2060,"value":0.2179},{"F":1,"year":2061,"value":0.2039},{"F":1,"year":2062,"value":0.2012},{"F":1,"year":2063,"value":0.2147},{"F":1,"year":2064,"value":0.2233},{"F":1,"year":2065,"value":0.2341},{"F":1,"year":2066,"value":0.2309},{"F":1,"year":2067,"value":0.2214},{"F":1,"year":2068,"value":0.2187},{"F":1,"year":2069,"value":0.2160},{"F":1,"year":2070,"value":0.2093},{"F":1,"year":2071,"value":0.1931},{"F":1,"year":2072,"value":0.1923},{"F":1,"year":2073,"value":0.1783},{"F":1,"year":2074,"value":0.1718},{"F":1,"year":2075,"value":0.1702},{"F":1,"year":2076,"value":0.1667},{"F":1,"year":2077,"value":0.1667},{"F":1,"year":2078,"value":0.1729},{"F":1,"year":2079,"value":0.1702},{"F":1,"year":2080,"value":0.1635},{"F":1,"year":2081,"value":0.1662},{"F":1,"year":2082,"value":0.1797},{"F":1,"year":2083,"value":0.1918},{"F":1,"year":2084,"value":0.1958},{"F":1,"year":2085,"value":0.1937},{"F":1,"year":2086,"value":0.1883},{"F":1,"year":2087,"value":0.1875},{"F":1,"year":2088,"value":0.1743},{"F":1,"year":2089,"value":0.1608},{"F":1,"year":2090,"value":0.1487},{"F":1,"year":2091,"value":0.1460},{"F":1,"year":2092,"value":0.1478},{"F":1,"year":2093,"value":0.1495},{"F":1,"year":2094,"value":0.1482},{"F":1,"year":2095,"value":0.1482},{"F":1,"year":2096,"value":0.1689},{"F":1,"year":2097,"value":0.1761},{"F":1,"year":2098,"value":0.1662},{"F":1,"year":2099,"value":0.1643},{"F":1,"year":2100,"value":0.1783}
]
},
"bounds": "flush",
"spacing": 98,
"vconcat": [
 {
  "width": 720, "height": 385,
  "layer": [
   {"data": {"name": "catchLevel"}, "mark": {"type": "rule", "strokeDash": [9, 7], "strokeWidth": 2.5},
    "encoding": {
     "x": {"datum": 2011, "type": "quantitative", "scale": {"domain": [2007.6, 2103.6], "nice": false, "zero": false}},
     "x2": {"datum": 2099},
     "y": {"field": "value", "type": "quantitative", "scale": {"domain": [0.00647, 0.10345], "nice": false, "zero": false}},
     "color": {"field": "F", "type": "nominal", "scale": {"domain": [0, 0.2, 0.4, 0.6, 0.8, 1], "range": ["#bebebe", "#0000ff", "#00ffff", "#00ee00", "#006400", "#000000"]}, "legend": null}}},
   {"data": {"name": "catch"}, "mark": {"type": "line", "strokeWidth": 3, "strokeJoin": "round"},
    "encoding": {
     "x": {"field": "year", "type": "quantitative", "scale": {"domain": [2007.6, 2103.6], "nice": false, "zero": false}, "axis": {"values": [2020, 2040, 2060, 2080, 2100], "format": "d", "title": null, "labelPadding": 13}},
     "y": {"field": "value", "type": "quantitative", "scale": {"domain": [0.00647, 0.10345], "nice": false, "zero": false}, "axis": {"values": [0.02, 0.04, 0.06, 0.08, 0.1], "format": ".2f", "title": "Total Fish Catch (t km⁻²)", "titleX": -119, "titleY": 160, "titleBaseline": "alphabetic", "titleAngle": 270}},
     "color": {"field": "F", "type": "nominal", "scale": {"domain": [0, 0.2, 0.4, 0.6, 0.8, 1], "range": ["#bebebe", "#0000ff", "#00ffff", "#00ee00", "#006400", "#000000"]}, "legend": null}}}
  ]
 },
 {
  "bounds": "flush",
  "spacing": 68,
  "vconcat": [
   {
    "width": 720, "height": 387,
    "layer": [
     {"data": {"name": "bioLevel"}, "mark": {"type": "rule", "strokeDash": [9, 7], "strokeWidth": 2.5},
      "encoding": {
       "x": {"datum": 2011, "type": "quantitative", "scale": {"domain": [2007.6, 2103.6], "nice": false, "zero": false}},
       "x2": {"datum": 2099},
       "y": {"field": "value", "type": "quantitative", "scale": {"domain": [0.1395, 0.4524], "nice": false, "zero": false}},
       "color": {"field": "F", "type": "nominal", "scale": {"domain": [0, 0.2, 0.4, 0.6, 0.8, 1], "range": ["#bebebe", "#0000ff", "#00ffff", "#00ee00", "#006400", "#000000"]}, "legend": null}}},
     {"data": {"name": "biomass"}, "mark": {"type": "line", "strokeWidth": 3, "strokeJoin": "round"},
      "encoding": {
       "x": {"field": "year", "type": "quantitative", "scale": {"domain": [2007.6, 2103.6], "nice": false, "zero": false}, "axis": {"values": [2020, 2040, 2060, 2080, 2100], "format": "d", "title": null, "labelPadding": 11}},
       "y": {"field": "value", "type": "quantitative", "scale": {"domain": [0.1395, 0.4524], "nice": false, "zero": false}, "axis": {"values": [0.15, 0.2, 0.25, 0.3, 0.35, 0.4, 0.45], "format": ".2f", "title": "Exploitable Biomass (t km⁻²)", "titleFontSize": 42, "titleX": -119, "titleY": 206, "titleBaseline": "alphabetic", "titleAngle": 270}},
       "color": {"field": "F", "type": "nominal", "scale": {"domain": [0, 0.2, 0.4, 0.6, 0.8, 1], "range": ["#bebebe", "#0000ff", "#00ffff", "#00ee00", "#006400", "#000000"]}, "legend": null}}},
     {"data": {"values": [{"label": "Changing climate"}]}, "mark": {"type": "text", "font": "Lato", "fontSize": 44, "color": "#7f7f7f", "align": "center", "baseline": "alphabetic"},
      "encoding": {"text": {"field": "label"}, "x": {"datum": 2031.6, "type": "quantitative"}, "y": {"datum": 0.410, "type": "quantitative"}}},
     {"data": {"values": [{"label": "Static climate"}]}, "mark": {"type": "text", "font": "Lato", "fontSize": 44, "color": "#7f7f7f", "align": "center", "baseline": "alphabetic"},
      "encoding": {"text": {"field": "label"}, "x": {"datum": 2081.7, "type": "quantitative"}, "y": {"datum": 0.382, "type": "quantitative"}}},
     {"data": {"values": [{"label": "arrow"}]}, "mark": {"type": "rule", "color": "#7f7f7f", "strokeWidth": 2.5},
      "encoding": {"x": {"datum": 2021.8, "type": "quantitative"}, "y": {"datum": 0.4012, "type": "quantitative"}, "x2": {"datum": 2017.7}, "y2": {"datum": 0.3717}}},
     {"data": {"values": [{"label": "arrow"}]}, "mark": {"type": "point", "shape": "triangle-up", "filled": true, "size": 256, "angle": 220, "color": "#7f7f7f", "opacity": 1},
      "encoding": {"x": {"datum": 2017.35, "type": "quantitative"}, "y": {"datum": 0.3692, "type": "quantitative"}}},
     {"data": {"values": [{"label": "arrow"}]}, "mark": {"type": "rule", "color": "#7f7f7f", "strokeWidth": 2.5},
      "encoding": {"x": {"datum": 2081.47, "type": "quantitative"}, "y": {"datum": 0.3724, "type": "quantitative"}, "y2": {"datum": 0.3392}}},
     {"data": {"values": [{"label": "arrow"}]}, "mark": {"type": "point", "shape": "triangle-up", "filled": true, "size": 256, "angle": 180, "color": "#7f7f7f", "opacity": 1},
      "encoding": {"x": {"datum": 2081.47, "type": "quantitative"}, "y": {"datum": 0.3360, "type": "quantitative"}}}
    ]
   },
   {
    "width": 720, "height": 90,
    "view": {"stroke": null},
    "layer": [
     {"data": {"values": [{"label": "box"}]}, "mark": {"type": "rect", "filled": false, "stroke": "black", "strokeWidth": 1.5},
      "encoding": {"x": {"datum": -0.2337, "type": "quantitative", "scale": {"domain": [-0.37053, 1.14526], "nice": false, "zero": false}, "axis": null}, "x2": {"datum": 1.0568}, "y": {"datum": 0, "type": "quantitative", "scale": {"domain": [0, 1], "nice": false, "zero": false}, "axis": null}, "y2": {"datum": 1}}},
     {"data": {"values": [{"label": "F ="}]}, "mark": {"type": "text", "font": "Lato", "fontSize": 45, "color": "black", "align": "right", "baseline": "alphabetic", "dx": -38},
      "encoding": {"text": {"field": "label"}, "x": {"datum": 0, "type": "quantitative", "axis": null}, "y": {"datum": 0.356, "type": "quantitative", "axis": null}}},
     {"data": {"values": [{"label": "ny"}]}, "mark": {"type": "text", "font": "Liberation Sans", "fontSize": 24, "color": "black", "align": "left", "baseline": "alphabetic"},
      "encoding": {"text": {"field": "label"}, "x": {"datum": -0.74316, "type": "quantitative", "axis": null}, "y": {"datum": 0.17, "type": "quantitative", "axis": null}}},
     {"data": {"name": "legendItems"}, "mark": {"type": "text", "font": "Lato", "fontSize": 45, "align": "right", "baseline": "alphabetic"},
      "encoding": {"x": {"field": "F", "type": "quantitative", "axis": null}, "y": {"datum": 0.356, "type": "quantitative", "axis": null}, "text": {"field": "label"},
       "color": {"field": "F", "type": "nominal", "scale": {"domain": [0, 0.2, 0.4, 0.6, 0.8, 1], "range": ["#a6a6a6", "#0000ff", "#00ffff", "#00ee00", "#006400", "#000000"]}, "legend": null}}}
    ]
   }
  ]
 }
]
}
